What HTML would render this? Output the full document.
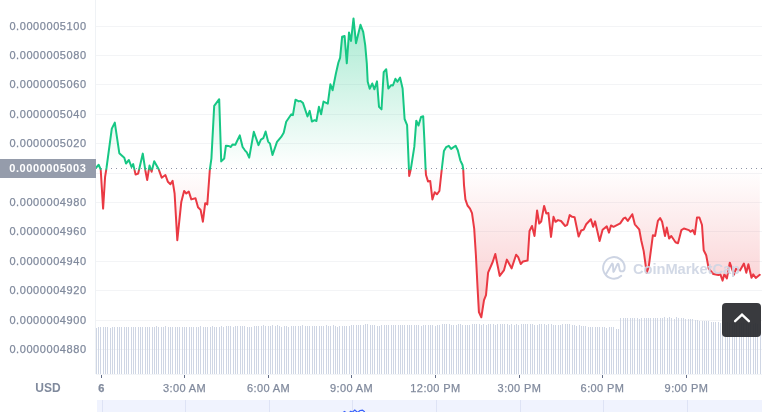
<!DOCTYPE html>
<html><head><meta charset="utf-8"><title>chart</title>
<style>
html,body{margin:0;padding:0;background:#fff;}
body{width:762px;height:412px;overflow:hidden;position:relative;font-family:"Liberation Sans",sans-serif;}
svg{position:absolute;left:0;top:0;}
.yl,.xl,.usd,.badge,.wm{will-change:transform;}
.yl{position:absolute;left:0;width:86.6px;text-align:right;font-size:11px;letter-spacing:0.57px;line-height:16px;color:#808a9d;white-space:nowrap;-webkit-text-stroke:0.25px #808a9d;}
.xl{position:absolute;top:379.6px;width:61px;text-align:center;font-size:11px;letter-spacing:0.4px;line-height:16px;color:#808a9d;white-space:nowrap;-webkit-text-stroke:0.25px #808a9d;}
.badge{position:absolute;left:0;top:159px;width:96px;height:19px;background:#959cab;color:#fff;font-weight:bold;font-size:11px;letter-spacing:0.56px;line-height:19px;}
.badge span{position:absolute;right:9.6px;top:0;}
.usd{position:absolute;left:28px;top:379.5px;width:40px;text-align:center;font-size:12px;line-height:16px;font-weight:bold;color:#808a9d;}
.wm{position:absolute;left:633.3px;top:258.6px;font-size:14.7px;line-height:20px;font-weight:bold;color:#cfd6e4;white-space:nowrap;letter-spacing:-0.06px;opacity:.92}
.btn{position:absolute;left:722px;top:303px;width:39px;height:34px;background:rgba(45,46,50,.94);border-radius:4px;}
</style></head><body>
<svg width="762" height="412" viewBox="0 0 762 412">
<defs>
<linearGradient id="gg" x1="0" y1="18" x2="0" y2="168.5" gradientUnits="userSpaceOnUse">
<stop offset="0" stop-color="#16c784" stop-opacity="0.365"/><stop offset="1" stop-color="#16c784" stop-opacity="0"/></linearGradient>
<linearGradient id="rg" x1="0" y1="168.5" x2="0" y2="318" gradientUnits="userSpaceOnUse">
<stop offset="0" stop-color="#ea3943" stop-opacity="0"/><stop offset="1" stop-color="#ea3943" stop-opacity="0.28"/></linearGradient>
<linearGradient id="lg" x1="0" y1="0" x2="0" y2="400" gradientUnits="userSpaceOnUse">
<stop offset="0" stop-color="#16c784"/><stop offset="0.42250" stop-color="#16c784"/><stop offset="0.42700" stop-color="#ea3943"/><stop offset="1" stop-color="#ea3943"/></linearGradient>
<clipPath id="up"><rect x="96" y="0" width="666" height="168.5"/></clipPath>
<clipPath id="dn"><rect x="96" y="168.5" width="666" height="250"/></clipPath>
</defs>
<rect x="95" y="0" width="1" height="374" fill="#eff2f5"/>
<rect x="96" y="26" width="666" height="1" fill="#f3f4f6"/><rect x="96" y="55" width="666" height="1" fill="#f3f4f6"/><rect x="96" y="84" width="666" height="1" fill="#f3f4f6"/><rect x="96" y="114" width="666" height="1" fill="#f3f4f6"/><rect x="96" y="143" width="666" height="1" fill="#f3f4f6"/><rect x="96" y="173" width="666" height="1" fill="#f3f4f6"/><rect x="96" y="202" width="666" height="1" fill="#f3f4f6"/><rect x="96" y="231" width="666" height="1" fill="#f3f4f6"/><rect x="96" y="261" width="666" height="1" fill="#f3f4f6"/><rect x="96" y="290" width="666" height="1" fill="#f3f4f6"/><rect x="96" y="320" width="666" height="1" fill="#f3f4f6"/><rect x="96" y="349" width="666" height="1" fill="#f3f4f6"/>
<g fill="#cfd6e4"><rect x="96" y="328" width="1" height="46"/><rect x="98" y="327" width="1" height="47"/><rect x="100" y="327" width="1" height="47"/><rect x="103" y="327" width="1" height="47"/><rect x="105" y="327" width="1" height="47"/><rect x="107" y="327" width="1" height="47"/><rect x="110" y="328" width="1" height="46"/><rect x="112" y="327" width="1" height="47"/><rect x="114" y="327" width="1" height="47"/><rect x="117" y="327" width="1" height="47"/><rect x="119" y="327" width="1" height="47"/><rect x="121" y="327" width="1" height="47"/><rect x="124" y="327" width="1" height="47"/><rect x="126" y="327" width="1" height="47"/><rect x="128" y="327" width="1" height="47"/><rect x="131" y="327" width="1" height="47"/><rect x="133" y="327" width="1" height="47"/><rect x="135" y="327" width="1" height="47"/><rect x="138" y="327" width="1" height="47"/><rect x="140" y="327" width="1" height="47"/><rect x="142" y="327" width="1" height="47"/><rect x="145" y="327" width="1" height="47"/><rect x="147" y="327" width="1" height="47"/><rect x="149" y="327" width="1" height="47"/><rect x="152" y="327" width="1" height="47"/><rect x="154" y="327" width="1" height="47"/><rect x="156" y="326" width="1" height="48"/><rect x="158" y="327" width="1" height="47"/><rect x="161" y="327" width="1" height="47"/><rect x="163" y="327" width="1" height="47"/><rect x="165" y="326" width="1" height="48"/><rect x="168" y="327" width="1" height="47"/><rect x="170" y="327" width="1" height="47"/><rect x="172" y="327" width="1" height="47"/><rect x="175" y="327" width="1" height="47"/><rect x="177" y="327" width="1" height="47"/><rect x="179" y="327" width="1" height="47"/><rect x="182" y="327" width="1" height="47"/><rect x="184" y="327" width="1" height="47"/><rect x="186" y="327" width="1" height="47"/><rect x="189" y="327" width="1" height="47"/><rect x="191" y="327" width="1" height="47"/><rect x="193" y="327" width="1" height="47"/><rect x="196" y="327" width="1" height="47"/><rect x="198" y="327" width="1" height="47"/><rect x="200" y="326" width="1" height="48"/><rect x="203" y="327" width="1" height="47"/><rect x="205" y="327" width="1" height="47"/><rect x="207" y="327" width="1" height="47"/><rect x="210" y="327" width="1" height="47"/><rect x="212" y="326" width="1" height="48"/><rect x="214" y="327" width="1" height="47"/><rect x="216" y="327" width="1" height="47"/><rect x="219" y="327" width="1" height="47"/><rect x="221" y="326" width="1" height="48"/><rect x="223" y="327" width="1" height="47"/><rect x="226" y="326" width="1" height="48"/><rect x="228" y="326" width="1" height="48"/><rect x="230" y="326" width="1" height="48"/><rect x="233" y="327" width="1" height="47"/><rect x="235" y="326" width="1" height="48"/><rect x="237" y="326" width="1" height="48"/><rect x="240" y="326" width="1" height="48"/><rect x="242" y="326" width="1" height="48"/><rect x="244" y="326" width="1" height="48"/><rect x="247" y="327" width="1" height="47"/><rect x="249" y="327" width="1" height="47"/><rect x="251" y="327" width="1" height="47"/><rect x="254" y="326" width="1" height="48"/><rect x="256" y="326" width="1" height="48"/><rect x="258" y="326" width="1" height="48"/><rect x="261" y="326" width="1" height="48"/><rect x="263" y="325" width="1" height="49"/><rect x="265" y="326" width="1" height="48"/><rect x="268" y="326" width="1" height="48"/><rect x="270" y="326" width="1" height="48"/><rect x="272" y="325" width="1" height="49"/><rect x="275" y="326" width="1" height="48"/><rect x="277" y="325" width="1" height="49"/><rect x="279" y="326" width="1" height="48"/><rect x="281" y="327" width="1" height="47"/><rect x="284" y="326" width="1" height="48"/><rect x="286" y="326" width="1" height="48"/><rect x="288" y="327" width="1" height="47"/><rect x="291" y="326" width="1" height="48"/><rect x="293" y="326" width="1" height="48"/><rect x="295" y="326" width="1" height="48"/><rect x="298" y="326" width="1" height="48"/><rect x="300" y="326" width="1" height="48"/><rect x="302" y="325" width="1" height="49"/><rect x="305" y="326" width="1" height="48"/><rect x="307" y="326" width="1" height="48"/><rect x="309" y="326" width="1" height="48"/><rect x="312" y="326" width="1" height="48"/><rect x="314" y="326" width="1" height="48"/><rect x="316" y="326" width="1" height="48"/><rect x="319" y="326" width="1" height="48"/><rect x="321" y="326" width="1" height="48"/><rect x="323" y="326" width="1" height="48"/><rect x="326" y="325" width="1" height="49"/><rect x="328" y="326" width="1" height="48"/><rect x="330" y="326" width="1" height="48"/><rect x="333" y="325" width="1" height="49"/><rect x="335" y="326" width="1" height="48"/><rect x="337" y="327" width="1" height="47"/><rect x="339" y="326" width="1" height="48"/><rect x="342" y="326" width="1" height="48"/><rect x="344" y="326" width="1" height="48"/><rect x="346" y="326" width="1" height="48"/><rect x="349" y="326" width="1" height="48"/><rect x="351" y="325" width="1" height="49"/><rect x="353" y="325" width="1" height="49"/><rect x="356" y="325" width="1" height="49"/><rect x="358" y="325" width="1" height="49"/><rect x="360" y="325" width="1" height="49"/><rect x="363" y="325" width="1" height="49"/><rect x="365" y="324" width="1" height="50"/><rect x="367" y="324" width="1" height="50"/><rect x="370" y="325" width="1" height="49"/><rect x="372" y="325" width="1" height="49"/><rect x="374" y="325" width="1" height="49"/><rect x="377" y="326" width="1" height="48"/><rect x="379" y="326" width="1" height="48"/><rect x="381" y="325" width="1" height="49"/><rect x="384" y="325" width="1" height="49"/><rect x="386" y="325" width="1" height="49"/><rect x="388" y="325" width="1" height="49"/><rect x="391" y="325" width="1" height="49"/><rect x="393" y="325" width="1" height="49"/><rect x="395" y="325" width="1" height="49"/><rect x="398" y="325" width="1" height="49"/><rect x="400" y="325" width="1" height="49"/><rect x="402" y="325" width="1" height="49"/><rect x="404" y="325" width="1" height="49"/><rect x="407" y="325" width="1" height="49"/><rect x="409" y="325" width="1" height="49"/><rect x="411" y="325" width="1" height="49"/><rect x="414" y="325" width="1" height="49"/><rect x="416" y="325" width="1" height="49"/><rect x="418" y="325" width="1" height="49"/><rect x="421" y="326" width="1" height="48"/><rect x="423" y="325" width="1" height="49"/><rect x="425" y="325" width="1" height="49"/><rect x="428" y="325" width="1" height="49"/><rect x="430" y="325" width="1" height="49"/><rect x="432" y="325" width="1" height="49"/><rect x="435" y="326" width="1" height="48"/><rect x="437" y="325" width="1" height="49"/><rect x="439" y="325" width="1" height="49"/><rect x="442" y="324" width="1" height="50"/><rect x="444" y="324" width="1" height="50"/><rect x="446" y="324" width="1" height="50"/><rect x="449" y="324" width="1" height="50"/><rect x="451" y="325" width="1" height="49"/><rect x="453" y="325" width="1" height="49"/><rect x="456" y="325" width="1" height="49"/><rect x="458" y="324" width="1" height="50"/><rect x="460" y="324" width="1" height="50"/><rect x="462" y="325" width="1" height="49"/><rect x="465" y="325" width="1" height="49"/><rect x="467" y="325" width="1" height="49"/><rect x="469" y="325" width="1" height="49"/><rect x="472" y="324" width="1" height="50"/><rect x="474" y="324" width="1" height="50"/><rect x="476" y="324" width="1" height="50"/><rect x="479" y="324" width="1" height="50"/><rect x="481" y="325" width="1" height="49"/><rect x="483" y="324" width="1" height="50"/><rect x="486" y="325" width="1" height="49"/><rect x="488" y="324" width="1" height="50"/><rect x="490" y="324" width="1" height="50"/><rect x="493" y="324" width="1" height="50"/><rect x="495" y="325" width="1" height="49"/><rect x="497" y="324" width="1" height="50"/><rect x="500" y="324" width="1" height="50"/><rect x="502" y="324" width="1" height="50"/><rect x="504" y="324" width="1" height="50"/><rect x="507" y="324" width="1" height="50"/><rect x="509" y="325" width="1" height="49"/><rect x="511" y="324" width="1" height="50"/><rect x="514" y="325" width="1" height="49"/><rect x="516" y="324" width="1" height="50"/><rect x="518" y="325" width="1" height="49"/><rect x="521" y="324" width="1" height="50"/><rect x="523" y="324" width="1" height="50"/><rect x="525" y="324" width="1" height="50"/><rect x="527" y="324" width="1" height="50"/><rect x="530" y="324" width="1" height="50"/><rect x="532" y="324" width="1" height="50"/><rect x="534" y="325" width="1" height="49"/><rect x="537" y="325" width="1" height="49"/><rect x="539" y="324" width="1" height="50"/><rect x="541" y="324" width="1" height="50"/><rect x="544" y="324" width="1" height="50"/><rect x="546" y="325" width="1" height="49"/><rect x="548" y="324" width="1" height="50"/><rect x="551" y="324" width="1" height="50"/><rect x="553" y="325" width="1" height="49"/><rect x="555" y="325" width="1" height="49"/><rect x="558" y="325" width="1" height="49"/><rect x="560" y="325" width="1" height="49"/><rect x="562" y="324" width="1" height="50"/><rect x="565" y="324" width="1" height="50"/><rect x="567" y="324" width="1" height="50"/><rect x="569" y="324" width="1" height="50"/><rect x="572" y="325" width="1" height="49"/><rect x="574" y="325" width="1" height="49"/><rect x="576" y="326" width="1" height="48"/><rect x="579" y="325" width="1" height="49"/><rect x="581" y="326" width="1" height="48"/><rect x="583" y="326" width="1" height="48"/><rect x="585" y="326" width="1" height="48"/><rect x="588" y="327" width="1" height="47"/><rect x="590" y="327" width="1" height="47"/><rect x="592" y="327" width="1" height="47"/><rect x="595" y="327" width="1" height="47"/><rect x="597" y="327" width="1" height="47"/><rect x="599" y="327" width="1" height="47"/><rect x="602" y="327" width="1" height="47"/><rect x="604" y="327" width="1" height="47"/><rect x="606" y="328" width="1" height="46"/><rect x="609" y="327" width="1" height="47"/><rect x="611" y="327" width="1" height="47"/><rect x="613" y="327" width="1" height="47"/><rect x="616" y="329" width="1" height="45"/><rect x="618" y="329" width="1" height="45"/><rect x="620" y="318" width="1" height="56"/><rect x="623" y="318" width="1" height="56"/><rect x="625" y="318" width="1" height="56"/><rect x="627" y="318" width="1" height="56"/><rect x="630" y="318" width="1" height="56"/><rect x="632" y="318" width="1" height="56"/><rect x="634" y="318" width="1" height="56"/><rect x="637" y="318" width="1" height="56"/><rect x="639" y="319" width="1" height="55"/><rect x="641" y="318" width="1" height="56"/><rect x="644" y="318" width="1" height="56"/><rect x="646" y="318" width="1" height="56"/><rect x="648" y="318" width="1" height="56"/><rect x="650" y="318" width="1" height="56"/><rect x="653" y="318" width="1" height="56"/><rect x="655" y="318" width="1" height="56"/><rect x="657" y="318" width="1" height="56"/><rect x="660" y="318" width="1" height="56"/><rect x="662" y="318" width="1" height="56"/><rect x="664" y="317" width="1" height="57"/><rect x="667" y="318" width="1" height="56"/><rect x="669" y="317" width="1" height="57"/><rect x="671" y="318" width="1" height="56"/><rect x="674" y="319" width="1" height="55"/><rect x="676" y="317" width="1" height="57"/><rect x="678" y="318" width="1" height="56"/><rect x="681" y="318" width="1" height="56"/><rect x="683" y="318" width="1" height="56"/><rect x="685" y="319" width="1" height="55"/><rect x="688" y="319" width="1" height="55"/><rect x="690" y="319" width="1" height="55"/><rect x="692" y="319" width="1" height="55"/><rect x="695" y="320" width="1" height="54"/><rect x="697" y="320" width="1" height="54"/><rect x="699" y="321" width="1" height="53"/><rect x="702" y="321" width="1" height="53"/><rect x="704" y="321" width="1" height="53"/><rect x="706" y="321" width="1" height="53"/><rect x="708" y="321" width="1" height="53"/><rect x="711" y="322" width="1" height="52"/><rect x="713" y="322" width="1" height="52"/><rect x="715" y="322" width="1" height="52"/><rect x="718" y="322" width="1" height="52"/><rect x="720" y="323" width="1" height="51"/><rect x="722" y="322" width="1" height="52"/><rect x="725" y="322" width="1" height="52"/><rect x="727" y="322" width="1" height="52"/><rect x="729" y="323" width="1" height="51"/><rect x="732" y="323" width="1" height="51"/><rect x="734" y="322" width="1" height="52"/><rect x="736" y="323" width="1" height="51"/><rect x="739" y="323" width="1" height="51"/><rect x="741" y="323" width="1" height="51"/><rect x="743" y="323" width="1" height="51"/><rect x="746" y="323" width="1" height="51"/><rect x="748" y="324" width="1" height="50"/><rect x="750" y="324" width="1" height="50"/><rect x="753" y="324" width="1" height="50"/><rect x="755" y="323" width="1" height="51"/><rect x="757" y="324" width="1" height="50"/><rect x="760" y="324" width="1" height="50"/></g>
<path d="M96.2,168.5 L96.2,167.5 L98.7,164.8 L100.7,169.5 L103.1,208.6 L105.1,176.8 L106.5,168.0 L111.8,128.6 L114.8,122.6 L119.3,153.2 L124.3,157.7 L126.0,163.5 L128.9,160.0 L131.5,167.0 L133.2,164.1 L135.6,174.6 L138.2,173.5 L142.8,153.6 L145.3,170.2 L147.2,180.0 L149.5,165.6 L151.6,171.8 L154.2,161.2 L158.7,169.3 L161.7,177.7 L165.4,175.0 L167.9,181.8 L170.4,184.3 L172.6,180.9 L174.6,193.5 L177.3,240.2 L181.3,201.9 L184.1,191.0 L186.3,193.5 L188.8,191.5 L191.3,199.4 L195.5,198.2 L198.0,207.2 L200.6,209.9 L202.9,221.7 L205.2,203.2 L207.3,204.4 L209.8,170.0 L211.4,158.7 L214.2,105.9 L219.2,99.2 L221.2,161.4 L224.2,158.5 L225.9,145.7 L228.9,146.0 L230.6,147.0 L232.7,144.4 L235.3,144.8 L239.8,135.4 L242.6,147.0 L244.9,150.3 L246.8,152.4 L249.2,157.7 L253.8,131.8 L258.5,145.1 L260.9,139.6 L263.3,138.2 L265.6,131.5 L268.1,141.6 L270.0,143.6 L272.5,155.0 L277.0,141.9 L281.2,136.9 L283.7,132.7 L286.2,121.8 L291.3,114.3 L292.9,115.1 L295.5,99.7 L298.8,101.4 L300.5,100.9 L303.0,103.1 L307.5,116.5 L309.7,110.9 L311.9,121.5 L314.7,120.2 L316.4,121.0 L318.9,106.8 L321.1,114.3 L323.5,101.6 L327.8,103.6 L330.4,84.3 L332.6,90.2 L335.9,73.5 L338.4,62.5 L340.1,57.8 L342.1,36.8 L344.6,36.0 L346.8,63.3 L349.0,32.6 L351.0,41.0 L353.5,18.4 L356.0,43.2 L360.5,24.8 L363.2,31.8 L365.2,45.2 L366.8,63.4 L367.7,81.8 L369.7,88.8 L372.3,83.5 L374.4,89.3 L377.0,81.4 L379.0,106.9 L381.5,109.4 L383.7,72.1 L386.2,69.2 L388.3,88.5 L391.2,85.1 L392.9,85.5 L395.4,78.8 L397.4,81.8 L400.1,77.6 L402.6,88.5 L404.6,119.0 L407.1,125.1 L409.2,175.9 L410.9,168.7 L414.3,146.9 L416.3,120.7 L418.5,125.5 L421.0,117.0 L423.2,116.3 L424.3,138.5 L425.6,169.0 L426.0,175.0 L428.0,181.4 L430.2,180.9 L432.4,199.4 L434.7,192.2 L436.9,194.3 L439.4,191.0 L441.8,169.0 L443.9,151.1 L446.1,147.2 L448.8,145.8 L451.1,148.9 L455.6,145.7 L457.8,150.2 L460.3,160.3 L462.5,165.0 L463.2,169.0 L464.0,185.1 L465.4,199.4 L467.5,205.5 L470.0,208.6 L472.0,213.2 L474.2,228.6 L475.9,255.0 L477.6,288.5 L478.9,312.0 L481.3,317.3 L484.0,300.2 L486.0,295.2 L488.1,272.6 L492.7,262.0 L495.3,254.0 L499.7,275.9 L503.9,270.4 L506.9,259.6 L511.6,268.4 L516.1,254.7 L518.2,257.2 L520.7,264.0 L523.0,261.5 L527.6,260.6 L529.5,231.0 L532.0,226.0 L534.5,236.0 L537.1,210.4 L539.2,223.5 L541.2,221.5 L544.1,205.9 L546.3,213.4 L548.4,213.1 L551.0,236.9 L553.5,216.8 L555.5,221.8 L558.0,220.1 L561.0,221.0 L565.2,226.0 L567.2,224.8 L569.7,215.1 L572.2,216.8 L574.6,217.2 L578.6,236.5 L581.2,230.5 L583.7,229.6 L586.2,224.3 L590.9,219.2 L593.1,226.8 L595.1,221.4 L599.6,241.0 L602.6,229.8 L606.8,226.4 L609.0,232.6 L611.0,225.4 L613.5,226.8 L620.2,223.4 L623.6,218.4 L625.3,217.6 L627.8,220.9 L632.3,214.2 L634.8,224.3 L639.2,229.3 L641.2,240.2 L643.7,251.1 L646.7,272.8 L648.7,267.0 L652.9,235.2 L655.1,236.0 L657.9,220.9 L660.1,218.1 L662.1,221.8 L665.0,236.0 L666.8,227.6 L669.1,238.5 L671.3,236.0 L675.5,242.2 L678.0,243.2 L681.4,230.1 L683.9,228.5 L688.9,230.1 L690.6,231.8 L692.8,230.1 L694.8,234.3 L697.0,217.5 L699.4,217.5 L702.0,225.0 L703.7,250.2 L706.2,255.2 L708.7,268.6 L713.3,274.0 L718.4,275.0 L720.5,274.6 L722.6,280.6 L724.3,274.4 L726.9,278.4 L729.8,262.7 L734.0,274.6 L736.0,268.9 L740.0,270.4 L743.9,263.6 L746.3,272.8 L748.4,264.2 L751.5,277.8 L753.2,274.4 L755.8,278.0 L759.8,274.8 L759.8,168.5 Z" fill="url(#gg)" clip-path="url(#up)"/>
<path d="M96.2,168.5 L96.2,167.5 L98.7,164.8 L100.7,169.5 L103.1,208.6 L105.1,176.8 L106.5,168.0 L111.8,128.6 L114.8,122.6 L119.3,153.2 L124.3,157.7 L126.0,163.5 L128.9,160.0 L131.5,167.0 L133.2,164.1 L135.6,174.6 L138.2,173.5 L142.8,153.6 L145.3,170.2 L147.2,180.0 L149.5,165.6 L151.6,171.8 L154.2,161.2 L158.7,169.3 L161.7,177.7 L165.4,175.0 L167.9,181.8 L170.4,184.3 L172.6,180.9 L174.6,193.5 L177.3,240.2 L181.3,201.9 L184.1,191.0 L186.3,193.5 L188.8,191.5 L191.3,199.4 L195.5,198.2 L198.0,207.2 L200.6,209.9 L202.9,221.7 L205.2,203.2 L207.3,204.4 L209.8,170.0 L211.4,158.7 L214.2,105.9 L219.2,99.2 L221.2,161.4 L224.2,158.5 L225.9,145.7 L228.9,146.0 L230.6,147.0 L232.7,144.4 L235.3,144.8 L239.8,135.4 L242.6,147.0 L244.9,150.3 L246.8,152.4 L249.2,157.7 L253.8,131.8 L258.5,145.1 L260.9,139.6 L263.3,138.2 L265.6,131.5 L268.1,141.6 L270.0,143.6 L272.5,155.0 L277.0,141.9 L281.2,136.9 L283.7,132.7 L286.2,121.8 L291.3,114.3 L292.9,115.1 L295.5,99.7 L298.8,101.4 L300.5,100.9 L303.0,103.1 L307.5,116.5 L309.7,110.9 L311.9,121.5 L314.7,120.2 L316.4,121.0 L318.9,106.8 L321.1,114.3 L323.5,101.6 L327.8,103.6 L330.4,84.3 L332.6,90.2 L335.9,73.5 L338.4,62.5 L340.1,57.8 L342.1,36.8 L344.6,36.0 L346.8,63.3 L349.0,32.6 L351.0,41.0 L353.5,18.4 L356.0,43.2 L360.5,24.8 L363.2,31.8 L365.2,45.2 L366.8,63.4 L367.7,81.8 L369.7,88.8 L372.3,83.5 L374.4,89.3 L377.0,81.4 L379.0,106.9 L381.5,109.4 L383.7,72.1 L386.2,69.2 L388.3,88.5 L391.2,85.1 L392.9,85.5 L395.4,78.8 L397.4,81.8 L400.1,77.6 L402.6,88.5 L404.6,119.0 L407.1,125.1 L409.2,175.9 L410.9,168.7 L414.3,146.9 L416.3,120.7 L418.5,125.5 L421.0,117.0 L423.2,116.3 L424.3,138.5 L425.6,169.0 L426.0,175.0 L428.0,181.4 L430.2,180.9 L432.4,199.4 L434.7,192.2 L436.9,194.3 L439.4,191.0 L441.8,169.0 L443.9,151.1 L446.1,147.2 L448.8,145.8 L451.1,148.9 L455.6,145.7 L457.8,150.2 L460.3,160.3 L462.5,165.0 L463.2,169.0 L464.0,185.1 L465.4,199.4 L467.5,205.5 L470.0,208.6 L472.0,213.2 L474.2,228.6 L475.9,255.0 L477.6,288.5 L478.9,312.0 L481.3,317.3 L484.0,300.2 L486.0,295.2 L488.1,272.6 L492.7,262.0 L495.3,254.0 L499.7,275.9 L503.9,270.4 L506.9,259.6 L511.6,268.4 L516.1,254.7 L518.2,257.2 L520.7,264.0 L523.0,261.5 L527.6,260.6 L529.5,231.0 L532.0,226.0 L534.5,236.0 L537.1,210.4 L539.2,223.5 L541.2,221.5 L544.1,205.9 L546.3,213.4 L548.4,213.1 L551.0,236.9 L553.5,216.8 L555.5,221.8 L558.0,220.1 L561.0,221.0 L565.2,226.0 L567.2,224.8 L569.7,215.1 L572.2,216.8 L574.6,217.2 L578.6,236.5 L581.2,230.5 L583.7,229.6 L586.2,224.3 L590.9,219.2 L593.1,226.8 L595.1,221.4 L599.6,241.0 L602.6,229.8 L606.8,226.4 L609.0,232.6 L611.0,225.4 L613.5,226.8 L620.2,223.4 L623.6,218.4 L625.3,217.6 L627.8,220.9 L632.3,214.2 L634.8,224.3 L639.2,229.3 L641.2,240.2 L643.7,251.1 L646.7,272.8 L648.7,267.0 L652.9,235.2 L655.1,236.0 L657.9,220.9 L660.1,218.1 L662.1,221.8 L665.0,236.0 L666.8,227.6 L669.1,238.5 L671.3,236.0 L675.5,242.2 L678.0,243.2 L681.4,230.1 L683.9,228.5 L688.9,230.1 L690.6,231.8 L692.8,230.1 L694.8,234.3 L697.0,217.5 L699.4,217.5 L702.0,225.0 L703.7,250.2 L706.2,255.2 L708.7,268.6 L713.3,274.0 L718.4,275.0 L720.5,274.6 L722.6,280.6 L724.3,274.4 L726.9,278.4 L729.8,262.7 L734.0,274.6 L736.0,268.9 L740.0,270.4 L743.9,263.6 L746.3,272.8 L748.4,264.2 L751.5,277.8 L753.2,274.4 L755.8,278.0 L759.8,274.8 L759.8,168.5 Z" fill="url(#rg)" clip-path="url(#dn)"/>
<rect x="96" y="168" width="1" height="1" fill="#8e94a5"/><rect x="101" y="168" width="1" height="1" fill="#8e94a5"/><rect x="106" y="168" width="1" height="1" fill="#8e94a5"/><rect x="111" y="168" width="1" height="1" fill="#8e94a5"/><rect x="116" y="168" width="1" height="1" fill="#8e94a5"/><rect x="121" y="168" width="1" height="1" fill="#8e94a5"/><rect x="126" y="168" width="1" height="1" fill="#8e94a5"/><rect x="131" y="168" width="1" height="1" fill="#8e94a5"/><rect x="136" y="168" width="1" height="1" fill="#8e94a5"/><rect x="141" y="168" width="1" height="1" fill="#8e94a5"/><rect x="146" y="168" width="1" height="1" fill="#8e94a5"/><rect x="151" y="168" width="1" height="1" fill="#8e94a5"/><rect x="156" y="168" width="1" height="1" fill="#8e94a5"/><rect x="161" y="168" width="1" height="1" fill="#8e94a5"/><rect x="166" y="168" width="1" height="1" fill="#8e94a5"/><rect x="171" y="168" width="1" height="1" fill="#8e94a5"/><rect x="176" y="168" width="1" height="1" fill="#8e94a5"/><rect x="181" y="168" width="1" height="1" fill="#8e94a5"/><rect x="186" y="168" width="1" height="1" fill="#8e94a5"/><rect x="191" y="168" width="1" height="1" fill="#8e94a5"/><rect x="196" y="168" width="1" height="1" fill="#8e94a5"/><rect x="201" y="168" width="1" height="1" fill="#8e94a5"/><rect x="206" y="168" width="1" height="1" fill="#8e94a5"/><rect x="211" y="168" width="1" height="1" fill="#8e94a5"/><rect x="216" y="168" width="1" height="1" fill="#8e94a5"/><rect x="221" y="168" width="1" height="1" fill="#8e94a5"/><rect x="226" y="168" width="1" height="1" fill="#8e94a5"/><rect x="231" y="168" width="1" height="1" fill="#8e94a5"/><rect x="236" y="168" width="1" height="1" fill="#8e94a5"/><rect x="241" y="168" width="1" height="1" fill="#8e94a5"/><rect x="246" y="168" width="1" height="1" fill="#8e94a5"/><rect x="251" y="168" width="1" height="1" fill="#8e94a5"/><rect x="256" y="168" width="1" height="1" fill="#8e94a5"/><rect x="261" y="168" width="1" height="1" fill="#8e94a5"/><rect x="266" y="168" width="1" height="1" fill="#8e94a5"/><rect x="271" y="168" width="1" height="1" fill="#8e94a5"/><rect x="276" y="168" width="1" height="1" fill="#8e94a5"/><rect x="281" y="168" width="1" height="1" fill="#8e94a5"/><rect x="286" y="168" width="1" height="1" fill="#8e94a5"/><rect x="291" y="168" width="1" height="1" fill="#8e94a5"/><rect x="296" y="168" width="1" height="1" fill="#8e94a5"/><rect x="301" y="168" width="1" height="1" fill="#8e94a5"/><rect x="306" y="168" width="1" height="1" fill="#8e94a5"/><rect x="311" y="168" width="1" height="1" fill="#8e94a5"/><rect x="316" y="168" width="1" height="1" fill="#8e94a5"/><rect x="321" y="168" width="1" height="1" fill="#8e94a5"/><rect x="326" y="168" width="1" height="1" fill="#8e94a5"/><rect x="331" y="168" width="1" height="1" fill="#8e94a5"/><rect x="336" y="168" width="1" height="1" fill="#8e94a5"/><rect x="341" y="168" width="1" height="1" fill="#8e94a5"/><rect x="346" y="168" width="1" height="1" fill="#8e94a5"/><rect x="351" y="168" width="1" height="1" fill="#8e94a5"/><rect x="356" y="168" width="1" height="1" fill="#8e94a5"/><rect x="361" y="168" width="1" height="1" fill="#8e94a5"/><rect x="366" y="168" width="1" height="1" fill="#8e94a5"/><rect x="371" y="168" width="1" height="1" fill="#8e94a5"/><rect x="376" y="168" width="1" height="1" fill="#8e94a5"/><rect x="381" y="168" width="1" height="1" fill="#8e94a5"/><rect x="386" y="168" width="1" height="1" fill="#8e94a5"/><rect x="391" y="168" width="1" height="1" fill="#8e94a5"/><rect x="396" y="168" width="1" height="1" fill="#8e94a5"/><rect x="401" y="168" width="1" height="1" fill="#8e94a5"/><rect x="406" y="168" width="1" height="1" fill="#8e94a5"/><rect x="411" y="168" width="1" height="1" fill="#8e94a5"/><rect x="416" y="168" width="1" height="1" fill="#8e94a5"/><rect x="421" y="168" width="1" height="1" fill="#8e94a5"/><rect x="426" y="168" width="1" height="1" fill="#8e94a5"/><rect x="431" y="168" width="1" height="1" fill="#8e94a5"/><rect x="436" y="168" width="1" height="1" fill="#8e94a5"/><rect x="441" y="168" width="1" height="1" fill="#8e94a5"/><rect x="446" y="168" width="1" height="1" fill="#8e94a5"/><rect x="451" y="168" width="1" height="1" fill="#8e94a5"/><rect x="456" y="168" width="1" height="1" fill="#8e94a5"/><rect x="461" y="168" width="1" height="1" fill="#8e94a5"/><rect x="466" y="168" width="1" height="1" fill="#8e94a5"/><rect x="471" y="168" width="1" height="1" fill="#8e94a5"/><rect x="476" y="168" width="1" height="1" fill="#8e94a5"/><rect x="481" y="168" width="1" height="1" fill="#8e94a5"/><rect x="486" y="168" width="1" height="1" fill="#8e94a5"/><rect x="491" y="168" width="1" height="1" fill="#8e94a5"/><rect x="496" y="168" width="1" height="1" fill="#8e94a5"/><rect x="501" y="168" width="1" height="1" fill="#8e94a5"/><rect x="506" y="168" width="1" height="1" fill="#8e94a5"/><rect x="511" y="168" width="1" height="1" fill="#8e94a5"/><rect x="516" y="168" width="1" height="1" fill="#8e94a5"/><rect x="521" y="168" width="1" height="1" fill="#8e94a5"/><rect x="526" y="168" width="1" height="1" fill="#8e94a5"/><rect x="531" y="168" width="1" height="1" fill="#8e94a5"/><rect x="536" y="168" width="1" height="1" fill="#8e94a5"/><rect x="541" y="168" width="1" height="1" fill="#8e94a5"/><rect x="546" y="168" width="1" height="1" fill="#8e94a5"/><rect x="551" y="168" width="1" height="1" fill="#8e94a5"/><rect x="556" y="168" width="1" height="1" fill="#8e94a5"/><rect x="561" y="168" width="1" height="1" fill="#8e94a5"/><rect x="566" y="168" width="1" height="1" fill="#8e94a5"/><rect x="571" y="168" width="1" height="1" fill="#8e94a5"/><rect x="576" y="168" width="1" height="1" fill="#8e94a5"/><rect x="581" y="168" width="1" height="1" fill="#8e94a5"/><rect x="586" y="168" width="1" height="1" fill="#8e94a5"/><rect x="591" y="168" width="1" height="1" fill="#8e94a5"/><rect x="596" y="168" width="1" height="1" fill="#8e94a5"/><rect x="601" y="168" width="1" height="1" fill="#8e94a5"/><rect x="606" y="168" width="1" height="1" fill="#8e94a5"/><rect x="611" y="168" width="1" height="1" fill="#8e94a5"/><rect x="616" y="168" width="1" height="1" fill="#8e94a5"/><rect x="621" y="168" width="1" height="1" fill="#8e94a5"/><rect x="626" y="168" width="1" height="1" fill="#8e94a5"/><rect x="631" y="168" width="1" height="1" fill="#8e94a5"/><rect x="636" y="168" width="1" height="1" fill="#8e94a5"/><rect x="641" y="168" width="1" height="1" fill="#8e94a5"/><rect x="646" y="168" width="1" height="1" fill="#8e94a5"/><rect x="651" y="168" width="1" height="1" fill="#8e94a5"/><rect x="656" y="168" width="1" height="1" fill="#8e94a5"/><rect x="661" y="168" width="1" height="1" fill="#8e94a5"/><rect x="666" y="168" width="1" height="1" fill="#8e94a5"/><rect x="671" y="168" width="1" height="1" fill="#8e94a5"/><rect x="676" y="168" width="1" height="1" fill="#8e94a5"/><rect x="681" y="168" width="1" height="1" fill="#8e94a5"/><rect x="686" y="168" width="1" height="1" fill="#8e94a5"/><rect x="691" y="168" width="1" height="1" fill="#8e94a5"/><rect x="696" y="168" width="1" height="1" fill="#8e94a5"/><rect x="701" y="168" width="1" height="1" fill="#8e94a5"/><rect x="706" y="168" width="1" height="1" fill="#8e94a5"/><rect x="711" y="168" width="1" height="1" fill="#8e94a5"/><rect x="716" y="168" width="1" height="1" fill="#8e94a5"/><rect x="721" y="168" width="1" height="1" fill="#8e94a5"/><rect x="726" y="168" width="1" height="1" fill="#8e94a5"/><rect x="731" y="168" width="1" height="1" fill="#8e94a5"/><rect x="736" y="168" width="1" height="1" fill="#8e94a5"/><rect x="741" y="168" width="1" height="1" fill="#8e94a5"/><rect x="746" y="168" width="1" height="1" fill="#8e94a5"/><rect x="751" y="168" width="1" height="1" fill="#8e94a5"/><rect x="756" y="168" width="1" height="1" fill="#8e94a5"/><rect x="761" y="168" width="1" height="1" fill="#8e94a5"/>
<path d="M96.2,167.5 L98.7,164.8 L100.7,169.5 L103.1,208.6 L105.1,176.8 L106.5,168.0 L111.8,128.6 L114.8,122.6 L119.3,153.2 L124.3,157.7 L126.0,163.5 L128.9,160.0 L131.5,167.0 L133.2,164.1 L135.6,174.6 L138.2,173.5 L142.8,153.6 L145.3,170.2 L147.2,180.0 L149.5,165.6 L151.6,171.8 L154.2,161.2 L158.7,169.3 L161.7,177.7 L165.4,175.0 L167.9,181.8 L170.4,184.3 L172.6,180.9 L174.6,193.5 L177.3,240.2 L181.3,201.9 L184.1,191.0 L186.3,193.5 L188.8,191.5 L191.3,199.4 L195.5,198.2 L198.0,207.2 L200.6,209.9 L202.9,221.7 L205.2,203.2 L207.3,204.4 L209.8,170.0 L211.4,158.7 L214.2,105.9 L219.2,99.2 L221.2,161.4 L224.2,158.5 L225.9,145.7 L228.9,146.0 L230.6,147.0 L232.7,144.4 L235.3,144.8 L239.8,135.4 L242.6,147.0 L244.9,150.3 L246.8,152.4 L249.2,157.7 L253.8,131.8 L258.5,145.1 L260.9,139.6 L263.3,138.2 L265.6,131.5 L268.1,141.6 L270.0,143.6 L272.5,155.0 L277.0,141.9 L281.2,136.9 L283.7,132.7 L286.2,121.8 L291.3,114.3 L292.9,115.1 L295.5,99.7 L298.8,101.4 L300.5,100.9 L303.0,103.1 L307.5,116.5 L309.7,110.9 L311.9,121.5 L314.7,120.2 L316.4,121.0 L318.9,106.8 L321.1,114.3 L323.5,101.6 L327.8,103.6 L330.4,84.3 L332.6,90.2 L335.9,73.5 L338.4,62.5 L340.1,57.8 L342.1,36.8 L344.6,36.0 L346.8,63.3 L349.0,32.6 L351.0,41.0 L353.5,18.4 L356.0,43.2 L360.5,24.8 L363.2,31.8 L365.2,45.2 L366.8,63.4 L367.7,81.8 L369.7,88.8 L372.3,83.5 L374.4,89.3 L377.0,81.4 L379.0,106.9 L381.5,109.4 L383.7,72.1 L386.2,69.2 L388.3,88.5 L391.2,85.1 L392.9,85.5 L395.4,78.8 L397.4,81.8 L400.1,77.6 L402.6,88.5 L404.6,119.0 L407.1,125.1 L409.2,175.9 L410.9,168.7 L414.3,146.9 L416.3,120.7 L418.5,125.5 L421.0,117.0 L423.2,116.3 L424.3,138.5 L425.6,169.0 L426.0,175.0 L428.0,181.4 L430.2,180.9 L432.4,199.4 L434.7,192.2 L436.9,194.3 L439.4,191.0 L441.8,169.0 L443.9,151.1 L446.1,147.2 L448.8,145.8 L451.1,148.9 L455.6,145.7 L457.8,150.2 L460.3,160.3 L462.5,165.0 L463.2,169.0 L464.0,185.1 L465.4,199.4 L467.5,205.5 L470.0,208.6 L472.0,213.2 L474.2,228.6 L475.9,255.0 L477.6,288.5 L478.9,312.0 L481.3,317.3 L484.0,300.2 L486.0,295.2 L488.1,272.6 L492.7,262.0 L495.3,254.0 L499.7,275.9 L503.9,270.4 L506.9,259.6 L511.6,268.4 L516.1,254.7 L518.2,257.2 L520.7,264.0 L523.0,261.5 L527.6,260.6 L529.5,231.0 L532.0,226.0 L534.5,236.0 L537.1,210.4 L539.2,223.5 L541.2,221.5 L544.1,205.9 L546.3,213.4 L548.4,213.1 L551.0,236.9 L553.5,216.8 L555.5,221.8 L558.0,220.1 L561.0,221.0 L565.2,226.0 L567.2,224.8 L569.7,215.1 L572.2,216.8 L574.6,217.2 L578.6,236.5 L581.2,230.5 L583.7,229.6 L586.2,224.3 L590.9,219.2 L593.1,226.8 L595.1,221.4 L599.6,241.0 L602.6,229.8 L606.8,226.4 L609.0,232.6 L611.0,225.4 L613.5,226.8 L620.2,223.4 L623.6,218.4 L625.3,217.6 L627.8,220.9 L632.3,214.2 L634.8,224.3 L639.2,229.3 L641.2,240.2 L643.7,251.1 L646.7,272.8 L648.7,267.0 L652.9,235.2 L655.1,236.0 L657.9,220.9 L660.1,218.1 L662.1,221.8 L665.0,236.0 L666.8,227.6 L669.1,238.5 L671.3,236.0 L675.5,242.2 L678.0,243.2 L681.4,230.1 L683.9,228.5 L688.9,230.1 L690.6,231.8 L692.8,230.1 L694.8,234.3 L697.0,217.5 L699.4,217.5 L702.0,225.0 L703.7,250.2 L706.2,255.2 L708.7,268.6 L713.3,274.0 L718.4,275.0 L720.5,274.6 L722.6,280.6 L724.3,274.4 L726.9,278.4 L729.8,262.7 L734.0,274.6 L736.0,268.9 L740.0,270.4 L743.9,263.6 L746.3,272.8 L748.4,264.2 L751.5,277.8 L753.2,274.4 L755.8,278.0 L759.8,274.8" fill="none" stroke="url(#lg)" stroke-width="2" stroke-linejoin="round" stroke-linecap="round"/>
<rect x="101" y="375" width="1" height="3" fill="#626c85"/><rect x="184" y="375" width="1" height="3" fill="#626c85"/><rect x="268" y="375" width="1" height="3" fill="#626c85"/><rect x="351" y="375" width="1" height="3" fill="#626c85"/><rect x="435" y="375" width="1" height="3" fill="#626c85"/><rect x="519" y="375" width="1" height="3" fill="#626c85"/><rect x="602" y="375" width="1" height="3" fill="#626c85"/><rect x="686" y="375" width="1" height="3" fill="#626c85"/>
<rect x="96" y="374" width="666" height="1" fill="#f3f5f8"/>
<rect x="97" y="400" width="665" height="12" fill="#f0f3fe"/>
<rect x="102" y="400" width="1" height="12" fill="#dee3f5"/><rect x="185" y="400" width="1" height="12" fill="#dee3f5"/><rect x="269" y="400" width="1" height="12" fill="#dee3f5"/><rect x="352" y="400" width="1" height="12" fill="#dee3f5"/><rect x="436" y="400" width="1" height="12" fill="#dee3f5"/><rect x="520" y="400" width="1" height="12" fill="#dee3f5"/><rect x="603" y="400" width="1" height="12" fill="#dee3f5"/><rect x="687" y="400" width="1" height="12" fill="#dee3f5"/>
<path d="M343,412.6 L344.5,411.4 L346,412.6 M349.3,412.6 L350.8,411.2 L352.3,412.2 L354.8,410 L357,412 L358.5,411.8 L360,410.5 L362.5,410.1 L364.8,412" fill="none" stroke="#3861fb" stroke-width="1.2"/>
<g fill="none" stroke="#cdd4e3" stroke-width="1.9" stroke-linejoin="round" stroke-linecap="round">
<path d="M621.3,275.8 A10.8,10.8 0 1 1 624.7,267.4 Q624.7,271.4 621.6,271.4 Q619.9,271.4 619.6,269.5 L618.7,264.6 Q618.3,263 617.3,264.4 L613.9,271.6 Q613.4,272.4 613.3,271.4 L612.9,264.4 Q612.6,262.8 611.7,264.3 L606.2,273.8"/>
</g>
</svg>
<div class="yl" style="top:17.5px">0.0000005100</div><div class="yl" style="top:46.5px">0.0000005080</div><div class="yl" style="top:75.5px">0.0000005060</div><div class="yl" style="top:105.5px">0.0000005040</div><div class="yl" style="top:134.5px">0.0000005020</div><div class="yl" style="top:193.5px">0.0000004980</div><div class="yl" style="top:222.5px">0.0000004960</div><div class="yl" style="top:252.5px">0.0000004940</div><div class="yl" style="top:281.5px">0.0000004920</div><div class="yl" style="top:311.5px">0.0000004900</div><div class="yl" style="top:340.5px">0.0000004880</div>
<div class="badge"><span>0.0000005003</span></div>
<div class="usd">USD</div>
<div class="xl" style="left:70.7px;font-weight:bold">6</div><div class="xl" style="left:153.7px">3:00 AM</div><div class="xl" style="left:237.7px">6:00 AM</div><div class="xl" style="left:320.7px">9:00 AM</div><div class="xl" style="left:404.7px">12:00 PM</div><div class="xl" style="left:488.7px">3:00 PM</div><div class="xl" style="left:571.7px">6:00 PM</div><div class="xl" style="left:655.7px">9:00 PM</div>
<div class="wm">CoinMarketCap</div>
<div class="btn"><svg width="40" height="34" viewBox="0 0 40 34" style="position:absolute;left:0;top:0"><path d="M13.1,18.2 L20,11.6 L26.9,18.2" fill="none" stroke="#fff" stroke-width="2.4" stroke-linecap="round"/></svg></div>
</body></html>
